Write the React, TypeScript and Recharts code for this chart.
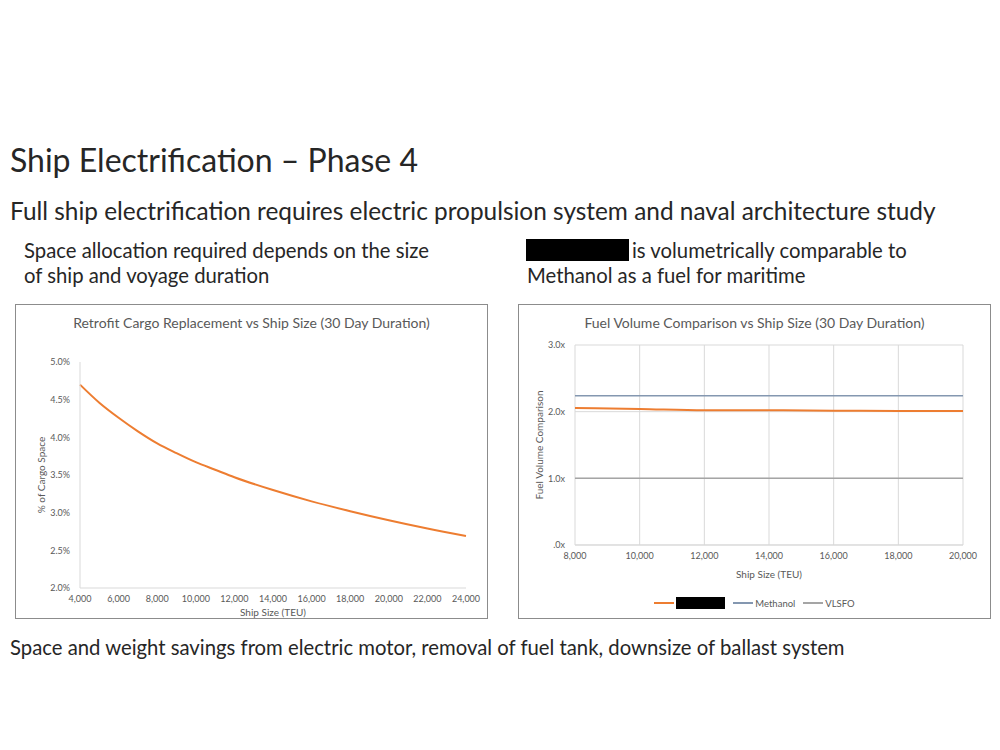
import React from "react";
import { LineChart, Line, XAxis, YAxis, CartesianGrid } from "recharts";

// Retrofit cargo replacement (30 day duration)
const cargoSizes = [4000, 5000, 6000, 7000, 8000, 9000, 10000, 11000, 12000, 14000, 16000, 18000, 20000, 22000, 24000];
const cargoShare = [4.7, 4.46, 4.26, 4.08, 3.92, 3.79, 3.67, 3.57, 3.47, 3.3, 3.15, 3.02, 2.9, 2.79, 2.69];
const cargoXTicks = [4000, 6000, 8000, 10000, 12000, 14000, 16000, 18000, 20000, 22000, 24000];
const cargoYTicks = [2.0, 2.5, 3.0, 3.5, 4.0, 4.5, 5.0];

// Fuel volume comparison (30 day duration)
const fuelSizes = [8000, 10000, 12000, 14000, 16000, 18000, 20000];
const redactedFuel = [2.055, 2.04, 2.02, 2.02, 2.015, 2.01, 2.01];
const methanolFuel = [2.24, 2.24, 2.24, 2.24, 2.24, 2.24, 2.24];
const vlsfoFuel = [1.0, 1.0, 1.0, 1.0, 1.0, 1.0, 1.0];
const fuelXTicks = [8000, 10000, 12000, 14000, 16000, 18000, 20000];
const fuelYTicks = [0, 1, 2, 3];

const ORANGE = "#ED7D31";
const METHANOL = "#8497B0";
const VLSFO = "#A5A5A5";
const AXIS = "#D9D9D9";
const LABEL = "#595959";
const TEXT = "#262626";
const FONT = "Lato, 'Open Sans', sans-serif";

const cargoData = cargoSizes.map((teu, i) => ({ teu, share: cargoShare[i] }));
const fuelData = fuelSizes.map((teu, i) => ({
  teu,
  redacted: redactedFuel[i],
  methanol: methanolFuel[i],
  vlsfo: vlsfoFuel[i],
}));

const fuelLegend = [
  { key: "redacted", color: ORANGE, label: "" },
  { key: "methanol", color: METHANOL, label: "Methanol" },
  { key: "vlsfo", color: VLSFO, label: "VLSFO" },
];

const tick = { fill: LABEL, fontSize: 9, fontFamily: FONT };
const fmtThousands = (v: number) => v.toLocaleString("en-US");

const boxStyle: React.CSSProperties = {
  position: "absolute",
  top: 304,
  width: 473,
  height: 315,
  boxSizing: "border-box",
  border: "1px solid #8C8C8C",
  background: "#fff",
};

const chartTitle: React.CSSProperties = {
  position: "absolute",
  top: 9,
  left: 0,
  width: "100%",
  textAlign: "center",
  fontSize: 14,
  color: LABEL,
  fontFamily: FONT,
};

function Black({ w, h }: { w: number; h: number }) {
  return <span style={{ display: "inline-block", width: w, height: h, background: "#000" }} />;
}

function CargoChart() {
  return (
    <div style={{ ...boxStyle, left: 15 }}>
      <div style={chartTitle}>Retrofit Cargo Replacement vs Ship Size (30 Day Duration)</div>
      <LineChart width={471} height={313} data={cargoData} margin={{ top: 57, right: 21, left: 0, bottom: 0 }}>
        <XAxis
          dataKey="teu"
          type="number"
          domain={[4000, 24000]}
          ticks={cargoXTicks}
          tickFormatter={fmtThousands}
          tick={tick}
          tickLine={false}
          axisLine={{ stroke: AXIS }}
          height={30}
          interval={0}
          label={{ value: "Ship Size (TEU)", position: "insideBottom", offset: 2, fill: LABEL, fontSize: 10, fontFamily: FONT }}
        />
        <YAxis
          type="number"
          domain={[2, 5]}
          ticks={cargoYTicks}
          tickFormatter={(v: number) => `${v.toFixed(1)}%`}
          tick={tick}
          tickLine={false}
          tickMargin={4}
          axisLine={{ stroke: AXIS }}
          width={64}
          label={{
            value: "% of Cargo Space",
            angle: -90,
            position: "insideLeft",
            offset: 25,
            fill: LABEL,
            fontSize: 10,
            fontFamily: FONT,
            style: { textAnchor: "middle" },
          }}
        />
        <Line type="monotone" dataKey="share" stroke={ORANGE} strokeWidth={2} dot={false} isAnimationActive={false} />
      </LineChart>
    </div>
  );
}

function FuelChart() {
  return (
    <div style={{ ...boxStyle, left: 518 }}>
      <div style={chartTitle}>Fuel Volume Comparison vs Ship Size (30 Day Duration)</div>
      <LineChart width={471} height={313} data={fuelData} margin={{ top: 40, right: 27, left: 0, bottom: 37 }}>
        <CartesianGrid stroke={AXIS} />
        <XAxis
          dataKey="teu"
          type="number"
          domain={[8000, 20000]}
          ticks={fuelXTicks}
          tickFormatter={fmtThousands}
          tick={tick}
          tickLine={false}
          axisLine={{ stroke: AXIS }}
          height={36}
          interval={0}
          label={{ value: "Ship Size (TEU)", position: "insideBottom", offset: 3, fill: LABEL, fontSize: 10, fontFamily: FONT }}
        />
        <YAxis
          type="number"
          domain={[0, 3]}
          ticks={fuelYTicks}
          tickFormatter={(v: number) => (v === 0 ? ".0x" : `${v.toFixed(1)}x`)}
          tick={tick}
          tickLine={false}
          tickMargin={4}
          axisLine={false}
          width={56}
          label={{
            value: "Fuel Volume Comparison",
            angle: -90,
            position: "insideLeft",
            offset: 20,
            fill: LABEL,
            fontSize: 10,
            fontFamily: FONT,
            style: { textAnchor: "middle" },
          }}
        />
        <Line type="monotone" dataKey="vlsfo" stroke={VLSFO} strokeWidth={1.5} dot={false} isAnimationActive={false} />
        <Line type="monotone" dataKey="methanol" stroke={METHANOL} strokeWidth={1.5} dot={false} isAnimationActive={false} />
        <Line type="monotone" dataKey="redacted" stroke={ORANGE} strokeWidth={2} dot={false} isAnimationActive={false} />
      </LineChart>
      <div
        style={{
          position: "absolute",
          top: 292,
          left: 0,
          width: "100%",
          display: "flex",
          justifyContent: "center",
          alignItems: "center",
          gap: 8,
          fontSize: 9.5,
          color: LABEL,
          fontFamily: FONT,
        }}
      >
        {fuelLegend.map((s) => (
          <span key={s.key} style={{ display: "inline-flex", alignItems: "center", gap: 2 }}>
            <span style={{ display: "inline-block", width: 20, height: 2, background: s.color }} />
            {s.label ? s.label : <Black w={49} h={12} />}
          </span>
        ))}
      </div>
    </div>
  );
}

export default function App() {
  const line = (top: number, left: number, size: number): React.CSSProperties => ({
    position: "absolute",
    top,
    left,
    fontSize: size,
    lineHeight: 1.2,
    color: TEXT,
    fontFamily: FONT,
    whiteSpace: "nowrap",
  });
  return (
    <div style={{ position: "absolute", left: 0, top: 0, width: 1000, height: 750, background: "#fff", overflow: "hidden" }}>
      <div style={line(141, 10, 32)}>Ship Electrification – Phase 4</div>
      <div style={line(196, 10, 24.4)}>Full ship electrification requires electric propulsion system and naval architecture study</div>
      <div style={line(238, 24, 20.3)}>Space allocation required depends on the size</div>
      <div style={line(263, 24, 20.3)}>of ship and voyage duration</div>
      <div style={{ ...line(238, 526, 20.3), display: "flex", alignItems: "center" }}>
        <Black w={103} h={22} />
        <span style={{ marginLeft: 3 }}>is volumetrically comparable to</span>
      </div>
      <div style={line(263, 527, 20.3)}>Methanol as a fuel for maritime</div>
      <CargoChart />
      <FuelChart />
      <div style={line(635, 10, 20.3)}>Space and weight savings from electric motor, removal of fuel tank, downsize of ballast system</div>
    </div>
  );
}
